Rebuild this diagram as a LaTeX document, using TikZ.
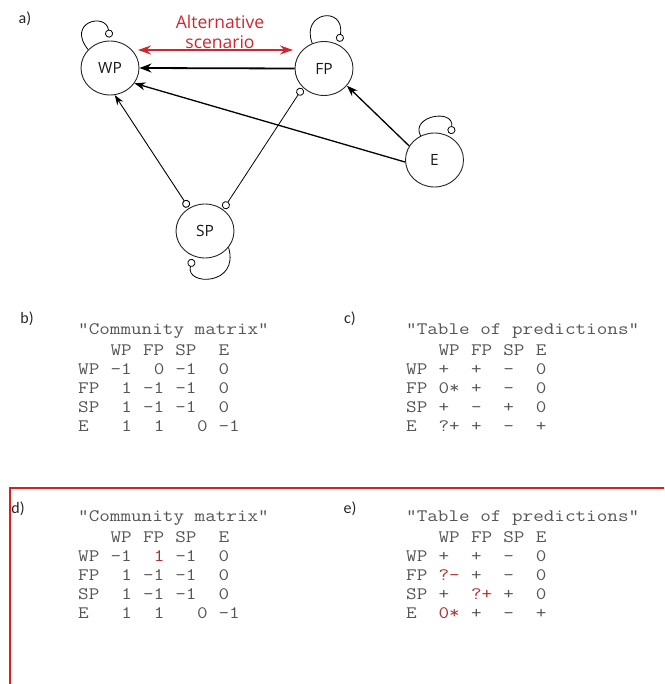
\documentclass[tikz,border=0pt]{standalone}
\usepackage{fontspec}
\usepackage{graphicx}
\setmainfont{Open Sans}
\newfontfamily\lblfont{Carlito}
\usetikzlibrary{arrows.meta,shapes.geometric}
\definecolor{tgray}{RGB}{85,85,85}
\definecolor{tred}{RGB}{170,50,45}
\definecolor{boxred}{RGB}{220,30,30}
\definecolor{altred}{RGB}{205,40,45}
\newcommand{\stx}[1]{\scalebox{1.175}[1]{#1}}
\begin{document}
\begin{tikzpicture}[x=1pt,y=-1pt,
  species/.style={ellipse,draw=black!85,line width=0.9pt,minimum width=58pt,minimum height=54pt,inner sep=0pt,font=\fontsize{15.5}{18}\selectfont,text=black!90},
  posthick/.style={-{Stealth[length=12pt,width=9pt]},line width=1.8pt},
  posmid/.style={-{Stealth[length=11pt,width=8pt]},line width=1.3pt},
  posthin/.style={{Circle[open,length=8pt,width=8pt,fill=white]}-{Stealth[length=10pt,width=7pt]},line width=0.9pt,shorten <=1pt},
  negboth/.style={{Circle[open,length=8pt,width=8pt,fill=white]}-{Circle[open,length=8pt,width=8pt,fill=white]},line width=0.8pt,shorten <=1pt,shorten >=1pt},
  selfloop/.style={-{Circle[open,length=8pt,width=8pt,fill=white]},line width=0.8pt,shorten >=3pt},
  tabtxt/.style={font=\ttfamily\fontsize{17.5}{19}\selectfont,text=tgray,inner sep=0pt,anchor=mid west},
  panel/.style={font=\lblfont\fontsize{16}{19}\selectfont,inner sep=0pt,text=black!85}
]
\useasboundingbox (0,0) rectangle (664,684);
\clip (0,0) rectangle (664,684);
\def\cw{10.8}

% panel a
\node[panel] (la) at (25,19) {a)};
\node[species] (WP) at (110,68) {WP};
\node[species] (FP) at (324,68.5) {FP};
\node[species] (E)  at (434.5,160) {E};
\node[species] (SP) at (205,231) {SP};

\node[text=altred,align=center,font=\fontsize{17.5}{20}\selectfont,inner sep=0pt] (alt) at (220,32) {Alternative\\scenario};
\coordinate (altL) at (138,50);
\coordinate (altR) at (293,50);
\draw[altred,line width=1.5pt,{Stealth[length=13pt,width=9pt]}-{Stealth[length=13pt,width=9pt]}] (altL) -- (altR);

\draw[posthick] (FP.west) -- (WP.east);
\draw[posmid] (E.184) -- (WP.-32);
\draw[posmid] (E.151) -- (FP.-37);
\draw[posthin] (SP.125) -- (WP.-80);
\draw[negboth] (SP.50) -- (FP.222);

\draw[selfloop] (WP.140) .. controls (66,22) and (106,12) .. (WP.90);
\draw[selfloop] (FP.115) .. controls (300,12) and (345,5) .. (FP.58);
\draw[selfloop] (E.120) .. controls (410,116) and (454,108) .. (E.55);
\draw[selfloop] (SP.-35) .. controls (240,286) and (185,286) .. (SP.-115);

% panel b  (columns: x = 78 + cw*index)
\node[panel] (lb) at (27,319) {b)};
\node[tabtxt] (b-title) at (78,332) {\stx{\symbol{34}Community matrix\symbol{34}}};
\foreach \i/\t [count=\k] in {3/WP,6/FP,9/SP,13/E} \node[tabtxt] (b-h\k) at ({78+\cw*\i},353) {\stx{\t}};
\foreach \i/\t [count=\k] in {0/WP,3/-1,7/0,9/-1,13/0} \node[tabtxt] (b-1-\k) at ({78+\cw*\i},372) {\stx{\t}};
\foreach \i/\t [count=\k] in {0/FP,4/1,6/-1,9/-1,13/0} \node[tabtxt] (b-2-\k) at ({78+\cw*\i},391) {\stx{\t}};
\foreach \i/\t [count=\k] in {0/SP,4/1,6/-1,9/-1,13/0} \node[tabtxt] (b-3-\k) at ({78+\cw*\i},410) {\stx{\t}};
\foreach \i/\t [count=\k] in {0/E,4/1,7/1,11/0,13/-1} \node[tabtxt] (b-4-\k) at ({78+\cw*\i},429) {\stx{\t}};

% panel c  (columns: x = 406 + cw*index)
\node[panel] (lc) at (350,319) {c)};
\node[tabtxt] (c-title) at (406,332) {\stx{\symbol{34}Table of predictions\symbol{34}}};
\foreach \i/\t [count=\k] in {3/WP,6/FP,9/SP,12/E} \node[tabtxt] (c-h\k) at ({406+\cw*\i},353) {\stx{\t}};
\foreach \i/\t [count=\k] in {0/WP,3/+,6/+,9/-,12/0} \node[tabtxt] (c-1-\k) at ({406+\cw*\i},372) {\stx{\t}};
\foreach \i/\t [count=\k] in {0/FP,3/0*,6/+,9/-,12/0} \node[tabtxt] (c-2-\k) at ({406+\cw*\i},391) {\stx{\t}};
\foreach \i/\t [count=\k] in {0/SP,3/+,6/-,9/+,12/0} \node[tabtxt] (c-3-\k) at ({406+\cw*\i},410) {\stx{\t}};
\foreach \i/\t [count=\k] in {0/E,3/?+,6/+,9/-,12/+} \node[tabtxt] (c-4-\k) at ({406+\cw*\i},429) {\stx{\t}};

% red box
\draw[boxred,line width=2.2pt] (10,488) rectangle (690,710);

% panel d
\node[panel] (ld) at (18,509) {d)};
\node[tabtxt] (d-title) at (78,519) {\stx{\symbol{34}Community matrix\symbol{34}}};
\foreach \i/\t [count=\k] in {3/WP,6/FP,9/SP,13/E} \node[tabtxt] (d-h\k) at ({78+\cw*\i},540) {\stx{\t}};
\foreach \i/\t [count=\k] in {0/WP,3/-1,7/{\textcolor{tred}{1}},9/-1,13/0} \node[tabtxt] (d-1-\k) at ({78+\cw*\i},559) {\stx{\t}};
\foreach \i/\t [count=\k] in {0/FP,4/1,6/-1,9/-1,13/0} \node[tabtxt] (d-2-\k) at ({78+\cw*\i},578) {\stx{\t}};
\foreach \i/\t [count=\k] in {0/SP,4/1,6/-1,9/-1,13/0} \node[tabtxt] (d-3-\k) at ({78+\cw*\i},597) {\stx{\t}};
\foreach \i/\t [count=\k] in {0/E,4/1,7/1,11/0,13/-1} \node[tabtxt] (d-4-\k) at ({78+\cw*\i},616) {\stx{\t}};

% panel e
\node[panel] (le) at (350,509) {e)};
\node[tabtxt] (e-title) at (406,519) {\stx{\symbol{34}Table of predictions\symbol{34}}};
\foreach \i/\t [count=\k] in {3/WP,6/FP,9/SP,12/E} \node[tabtxt] (e-h\k) at ({406+\cw*\i},540) {\stx{\t}};
\foreach \i/\t [count=\k] in {0/WP,3/+,6/+,9/-,12/0} \node[tabtxt] (e-1-\k) at ({406+\cw*\i},559) {\stx{\t}};
\foreach \i/\t [count=\k] in {0/FP,3/{\textcolor{tred}{?-}},6/+,9/-,12/0} \node[tabtxt] (e-2-\k) at ({406+\cw*\i},578) {\stx{\t}};
\foreach \i/\t [count=\k] in {0/SP,3/+,6/{\textcolor{tred}{?+}},9/+,12/0} \node[tabtxt] (e-3-\k) at ({406+\cw*\i},597) {\stx{\t}};
\foreach \i/\t [count=\k] in {0/E,3/{\textcolor{tred}{0*}},6/+,9/-,12/+} \node[tabtxt] (e-4-\k) at ({406+\cw*\i},616) {\stx{\t}};
\end{tikzpicture}
\end{document}
